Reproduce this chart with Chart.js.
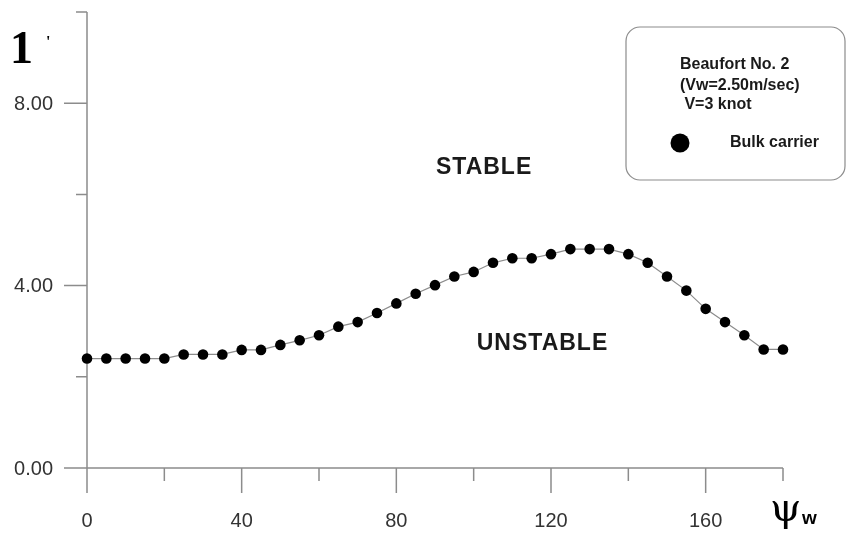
<!DOCTYPE html>
<html>
<head>
<meta charset="utf-8">
<script src="https://cdn.jsdelivr.net/npm/chart.js@4.4.1/dist/chart.umd.min.js"></script>
<style>
body { margin: 0; background: #fff; }
canvas { display: block; }
</style>
</head>
<body>
<canvas id="stabilityChart" width="854" height="539"></canvas>
<script>
// wind direction angle psi_w (deg) and the stability limit
const windAngles = [0, 5, 10, 15, 20, 25, 30, 35, 40, 45, 50, 55, 60, 65, 70, 75, 80, 85, 90,
    95, 100, 105, 110, 115, 120, 125, 130, 135, 140, 145, 150, 155, 160, 165, 170, 175, 180];
const bulkCarrier = [2.40, 2.40, 2.40, 2.40, 2.40, 2.49, 2.49, 2.49, 2.59, 2.59, 2.70, 2.80, 2.91,
    3.10, 3.20, 3.40, 3.61, 3.82, 4.01, 4.20, 4.30, 4.50, 4.60, 4.60, 4.69, 4.80, 4.80, 4.80,
    4.69, 4.50, 4.20, 3.89, 3.49, 3.20, 2.91, 2.60, 2.60];

const xMajorTicks = [0, 40, 80, 120, 160];
const xMinorTicks = [20, 60, 100, 140, 180];
const xTickLabels = ['0', '40', '80', '120', '160'];
const yMajorTicks = [0, 4, 8];
const yMinorTicks = [2, 6, 10];
const yTickLabels = ['0.00', '4.00', '8.00'];

const legendLines = ['Beaufort No. 2', '(Vw=2.50m/sec)', ' V=3 knot'];

function roundRect(ctx, x, y, w, h, r) {
    ctx.beginPath();
    ctx.moveTo(x + r, y);
    ctx.arcTo(x + w, y, x + w, y + h, r);
    ctx.arcTo(x + w, y + h, x, y + h, r);
    ctx.arcTo(x, y + h, x, y, r);
    ctx.arcTo(x, y, x + w, y, r);
    ctx.closePath();
}

const axesPlugin = {
    id: 'axesPlugin',
    beforeDatasetsDraw(chart) {
        const { ctx, scales: { x, y } } = chart;
        const x0 = x.getPixelForValue(0), y0 = y.getPixelForValue(0);
        ctx.save();
        ctx.strokeStyle = '#8c8c8c';
        ctx.lineWidth = 1.5;
        ctx.beginPath();
        ctx.moveTo(x0, y.getPixelForValue(10));
        ctx.lineTo(x0, y0);
        ctx.lineTo(x.getPixelForValue(180), y0);
        // ticks
        xMajorTicks.forEach(v => { const px = x.getPixelForValue(v); ctx.moveTo(px, y0); ctx.lineTo(px, y0 + 25); });
        xMinorTicks.forEach(v => { const px = x.getPixelForValue(v); ctx.moveTo(px, y0); ctx.lineTo(px, y0 + 13); });
        yMajorTicks.forEach(v => { const py = y.getPixelForValue(v); ctx.moveTo(x0, py); ctx.lineTo(x0 - 23, py); });
        yMinorTicks.forEach(v => { const py = y.getPixelForValue(v); ctx.moveTo(x0, py); ctx.lineTo(x0 - 11, py); });
        ctx.stroke();

        ctx.fillStyle = '#333';
        ctx.font = '20px "Liberation Sans", Arial, sans-serif';
        ctx.textBaseline = 'middle';
        ctx.textAlign = 'right';
        yMajorTicks.forEach((v, i) => ctx.fillText(yTickLabels[i], 53, y.getPixelForValue(v) + 1));
        ctx.textAlign = 'center';
        xMajorTicks.forEach((v, i) => ctx.fillText(xTickLabels[i], x.getPixelForValue(v), y0 + 53));
        ctx.restore();
    },
    afterDraw(chart) {
        const { ctx, scales: { x, y } } = chart;
        ctx.save();
        ctx.fillStyle = '#1a1a1a';
        ctx.textBaseline = 'middle';

        // region labels
        ctx.font = 'bold 23px "Liberation Sans", Arial, sans-serif';
        ctx.letterSpacing = '1px';
        ctx.textAlign = 'center';
        ctx.fillText('STABLE', x.getPixelForValue(102.7), y.getPixelForValue(6.58));
        ctx.fillText('UNSTABLE', x.getPixelForValue(117.8), y.getPixelForValue(2.72));
        ctx.letterSpacing = '0px';

        // axis titles
        ctx.textAlign = 'left';
        ctx.textBaseline = 'alphabetic';
        ctx.fillStyle = '#000';
        ctx.font = 'bold 46px "Liberation Serif", "Times New Roman", serif';
        ctx.fillText('1', 10, 63);
        ctx.font = 'bold 16px "Liberation Serif", serif';
        ctx.fillText("'", 46, 47);
        ctx.font = '40px "DejaVu Serif", "Liberation Serif", serif';
        ctx.fillText('\u03C8', 770, 521);
        ctx.font = 'bold 19px "Liberation Sans", Arial, sans-serif';
        ctx.fillText('w', 802, 524);

        // legend box
        ctx.strokeStyle = '#8c8c8c';
        ctx.lineWidth = 1.2;
        ctx.fillStyle = '#fff';
        roundRect(ctx, 626, 27, 219, 153, 14);
        ctx.fill();
        ctx.stroke();
        ctx.fillStyle = '#1a1a1a';
        ctx.font = 'bold 16px "Liberation Sans", Arial, sans-serif';
        ctx.textBaseline = 'middle';
        ctx.fillText(legendLines[0], 680, 65);
        ctx.fillText(legendLines[1], 680, 86);
        ctx.fillText(legendLines[2], 680, 105);
        ctx.beginPath();
        ctx.arc(680, 143, 9.5, 0, Math.PI * 2);
        ctx.fillStyle = '#000';
        ctx.fill();
        ctx.fillStyle = '#1a1a1a';
        ctx.fillText(chart.data.datasets[0].label, 730, 143);
        ctx.restore();
    }
};

new Chart(document.getElementById('stabilityChart').getContext('2d'), {
    type: 'line',
    data: {
        labels: windAngles,
        datasets: [{
            label: 'Bulk carrier',
            data: windAngles.map((a, i) => ({ x: a, y: bulkCarrier[i] })),
            borderColor: '#8c8c8c',
            borderWidth: 1.2,
            pointRadius: 5.3,
            pointBackgroundColor: '#000',
            pointBorderColor: '#000',
            pointBorderWidth: 0,
            tension: 0,
            clip: false,
        }]
    },
    options: {
        responsive: false,
        animation: false,
        events: [],
        layout: { padding: { left: 87, right: 71, top: 12, bottom: 71 } },
        scales: {
            x: { type: 'linear', min: 0, max: 180, display: false },
            y: { type: 'linear', min: 0, max: 10, display: false }
        },
        plugins: { legend: { display: false }, tooltip: { enabled: false } }
    },
    plugins: [axesPlugin]
});
</script>
</body>
</html>
